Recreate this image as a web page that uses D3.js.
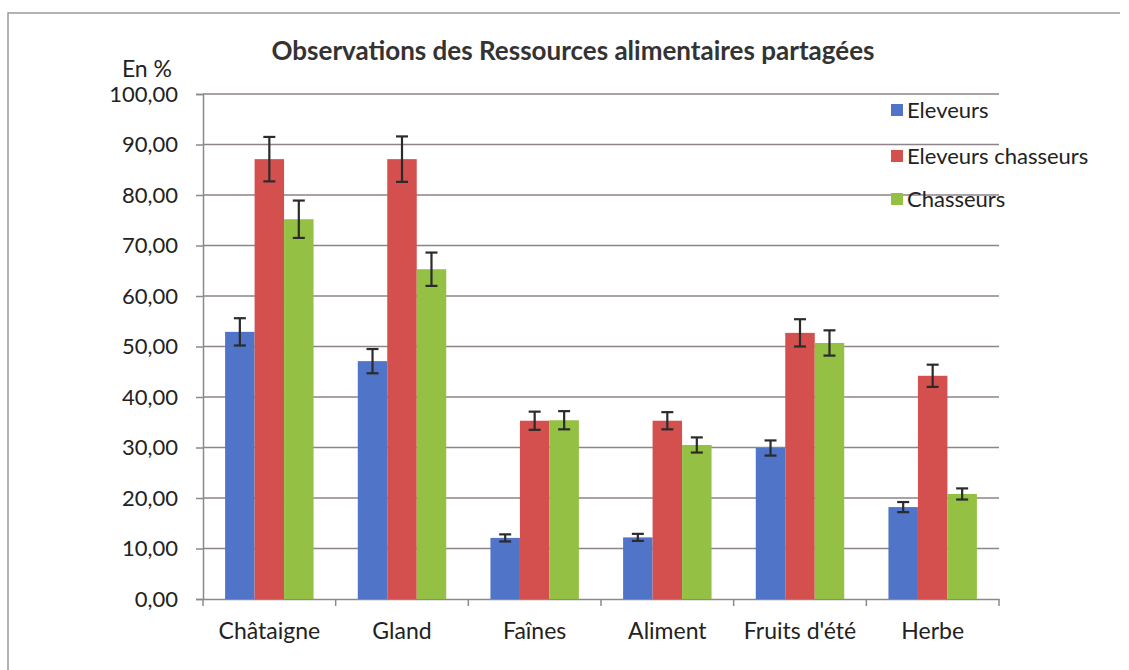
<!DOCTYPE html>
<html>
<head>
<meta charset="utf-8">
<script src="https://cdn.jsdelivr.net/npm/d3@7"></script>
<style>
  body { margin: 0; background: #fff; }
  text { font-family: Lato, "Open Sans", sans-serif; fill: #222; }
</style>
</head>
<body>
<div class="canvas"></div>
<script>
const categories = ["Châtaigne", "Gland", "Faînes", "Aliment", "Fruits d'été", "Herbe"];
const seriesNames = ["Eleveurs", "Eleveurs chasseurs", "Chasseurs"];
const seriesColors = ["#4f74c8", "#d4504f", "#94c043"];

const eleveurs = [52.9, 47.1, 12.1, 12.2, 29.9, 18.2];
const eleveursChasseurs = [87.1, 87.1, 35.3, 35.3, 52.7, 44.2];
const chasseurs = [75.2, 65.3, 35.4, 30.5, 50.7, 20.8];

const errEleveurs = [2.7, 2.4, 0.7, 0.7, 1.5, 1.0];
const errEleveursChasseurs = [4.4, 4.5, 1.8, 1.7, 2.7, 2.2];
const errChasseurs = [3.7, 3.3, 1.8, 1.5, 2.5, 1.1];

const yTicks = [0, 10, 20, 30, 40, 50, 60, 70, 80, 90, 100];

const values = [eleveurs, eleveursChasseurs, chasseurs];
const errors = [errEleveurs, errEleveursChasseurs, errChasseurs];

const svg = d3.select('.canvas')
  .append('svg')
  .attr('width', 1129)
  .attr('height', 670)

// frame of the scanned chart
svg.append('path')
  .attr('d', 'M8,670 L8,13 L1120,13')
  .attr('fill', 'none')
  .attr('stroke', '#9a9a9a')
  .attr('stroke-width', 1.5)

const x0 = d3.scaleBand()
  .domain(categories)
  .range([203, 999])
  .paddingInner(0)

const x1 = d3.scaleBand()
  .domain(seriesNames)
  .range([0, x0.bandwidth()])
  .paddingOuter(0.75)
  .paddingInner(0)

const y = d3.scaleLinear()
  .domain([0, 100])
  .range([599, 94])

// gridlines
svg.append('g')
  .selectAll('line')
  .data(yTicks.slice(1))
  .join('line')
  .attr('x1', 203)
  .attr('x2', 999)
  .attr('y1', d => y(d))
  .attr('y2', d => y(d))
  .attr('stroke', '#8e8388')
  .attr('stroke-width', 1.5)

// y axis
const yAxis = svg.append('g')
  .attr('transform', 'translate(203,0)')
  .call(d3.axisLeft(y).tickValues(yTicks).tickSize(7).tickPadding(18)
    .tickFormat(d => d3.format('.2f')(d).replace('.', ',')))
yAxis.select('.domain').attr('stroke', '#8a8a8a').attr('stroke-width', 1.5)
yAxis.selectAll('.tick line').attr('stroke', '#8a8a8a').attr('stroke-width', 1.5)
yAxis.selectAll('text').attr('font-size', 22).style('fill', '#222')

// x axis
const xAxis = svg.append('g')
  .attr('transform', 'translate(0,599)')
  .call(d3.axisBottom(x0).tickSize(0).tickPadding(24))
xAxis.select('.domain').attr('stroke', '#8a8a8a').attr('stroke-width', 1.5)
xAxis.selectAll('text').attr('font-size', 23).style('fill', '#222')

// category separators
svg.append('g')
  .selectAll('line')
  .data(categories.map(c => x0(c)).concat([x0.range()[1]]))
  .join('line')
  .attr('x1', d => d)
  .attr('x2', d => d)
  .attr('y1', 599)
  .attr('y2', 606)
  .attr('stroke', '#8a8a8a')
  .attr('stroke-width', 1.5)

// bars
const groups = svg.append('g')
  .selectAll('g')
  .data(categories)
  .join('g')
  .attr('transform', d => `translate(${x0(d)},0)`)

groups.selectAll('rect')
  .data((c, i) => seriesNames.map((s, k) => ({ s, v: values[k][i], e: errors[k][i], k })))
  .join('rect')
  .attr('x', d => x1(d.s))
  .attr('y', d => y(d.v))
  .attr('width', x1.bandwidth())
  .attr('height', d => y(0) - y(d.v))
  .attr('fill', d => seriesColors[d.k])

// error bars
const errG = groups.selectAll('g.err')
  .data((c, i) => seriesNames.map((s, k) => ({ s, v: values[k][i], e: errors[k][i], k })))
  .join('g')
  .attr('class', 'err')
  .attr('stroke', '#2b2b2b')
  .attr('stroke-width', 2.2)

errG.append('line')
  .attr('x1', d => x1(d.s) + x1.bandwidth() / 2)
  .attr('x2', d => x1(d.s) + x1.bandwidth() / 2)
  .attr('y1', d => y(d.v + d.e))
  .attr('y2', d => y(d.v - d.e))

errG.selectAll('line.cap')
  .data(d => [d.v + d.e, d.v - d.e].map(t => ({ t, cx: x1(d.s) + x1.bandwidth() / 2 })))
  .join('line')
  .attr('class', 'cap')
  .attr('x1', d => d.cx - 6)
  .attr('x2', d => d.cx + 6)
  .attr('y1', d => y(d.t))
  .attr('y2', d => y(d.t))

// title
svg.append('text')
  .attr('x', 573)
  .attr('y', 60)
  .attr('text-anchor', 'middle')
  .attr('font-size', 26)
  .attr('font-weight', 'bold')
  .style('fill', '#333')
  .text('Observations des Ressources alimentaires partagées')

svg.append('text')
  .attr('x', 172)
  .attr('y', 77)
  .attr('text-anchor', 'end')
  .attr('font-size', 23)
  .text('En %')

// legend
const legend = svg.append('g')
  .selectAll('g')
  .data(seriesNames)
  .join('g')
  .attr('transform', (d, i) => `translate(891,${[110, 156, 199][i]})`)

legend.append('rect')
  .attr('x', 0)
  .attr('y', -6)
  .attr('width', 12)
  .attr('height', 12)
  .attr('fill', (d, i) => seriesColors[i])

legend.append('text')
  .attr('x', 16)
  .attr('y', 8)
  .attr('font-size', 22)
  .text(d => d)
</script>
</body>
</html>
